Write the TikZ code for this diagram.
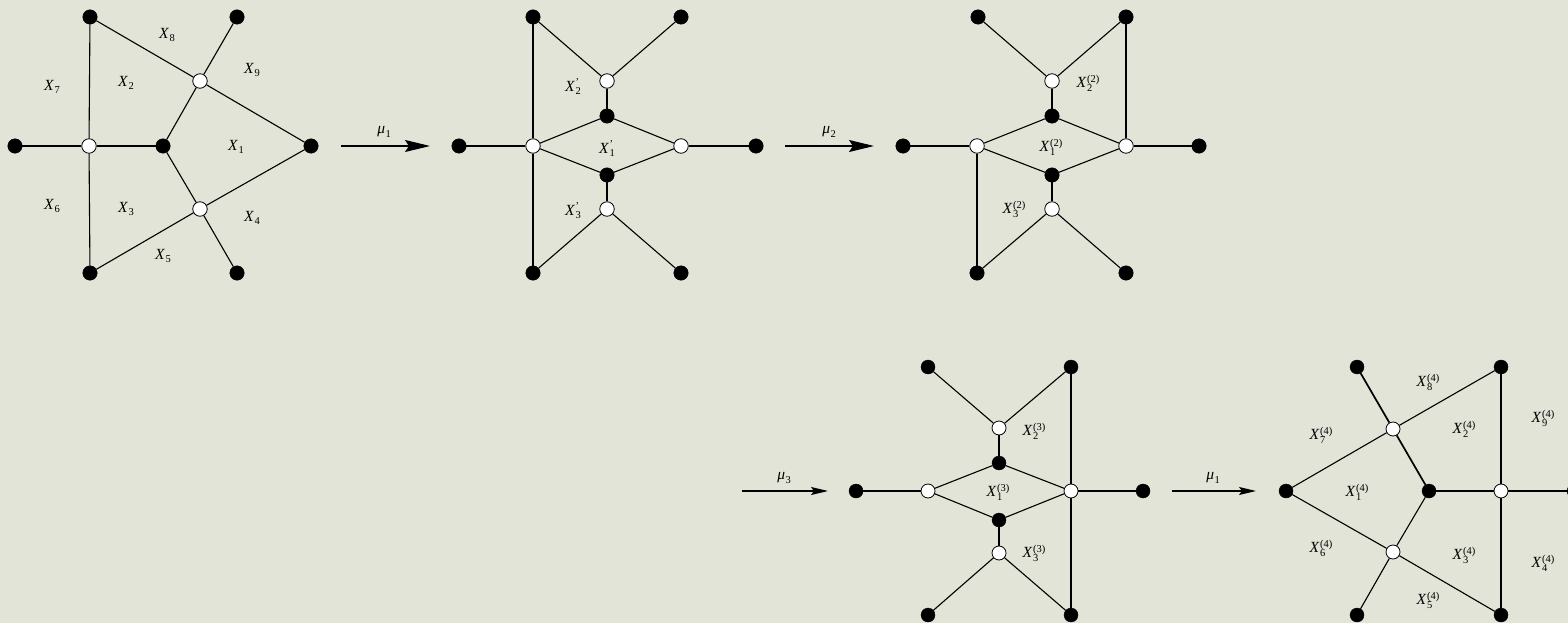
\documentclass[tikz,border=0pt]{standalone}
\usepackage{fontspec}
\setmainfont{Liberation Serif}
\usetikzlibrary{arrows.meta}
\newsavebox\Xsubbox
\newsavebox\Xsupbox
\newcommand\Xlab[3]{\mbox{\textit{#1}\kern0.03em\sbox\Xsubbox{\fontsize{10.5}{10.5}\selectfont #2}\sbox\Xsupbox{\fontsize{10.5}{10.5}\selectfont #3}\rlap{\raisebox{-3.2pt}{\usebox\Xsubbox}}\raisebox{5.8pt}{\usebox\Xsupbox}\ifdim\wd\Xsubbox>\wd\Xsupbox\kern\dimexpr\wd\Xsubbox-\wd\Xsupbox\relax\fi}}
\definecolor{bg}{RGB}{226,228,216}
\tikzset{
  bl/.style={circle,fill=black,draw=black,inner sep=0,minimum size=14.5},
  wh/.style={circle,fill=white,draw=black,line width=0.8,inner sep=0,minimum size=14.5},
  bls/.style={bl,minimum size=14},
  whs/.style={wh,minimum size=14},
  lbl/.style={font=\fontsize{15.5}{17}\selectfont,inner sep=0},
  edge/.style={line width=1.1,draw=black},
  thk/.style={line width=1.7,draw=black},
  arr/.style={line width=1.1,-{Stealth[length=25,width=12,inset=4]}},
  arrs/.style={line width=1.1,-{Stealth[length=17,width=8,inset=3]}},
}
\begin{document}
\begin{tikzpicture}[x=1pt,y=-1pt]
\fill[bg] (0,0) rectangle (1568,623);
\useasboundingbox (0,0) rectangle (1568,623);

% ---------- Graph 1 ----------
\node[bl] (a1) at (90,17) {};
\node[bl] (a2) at (237,17) {};
\node[wh] (a3) at (200,81) {};
\node[bl] (a4) at (15,146) {};
\node[wh] (a5) at (89,146) {};
\node[bl] (a6) at (163,146) {};
\node[bl] (a7) at (311,146) {};
\node[wh] (a8) at (200,209) {};
\node[bl] (a9) at (90,273) {};
\node[bl] (a10) at (237,273) {};
\draw[edge] (a1) -- (a5);
\draw[edge] (a5) -- (a9);
\draw[edge] (a4) -- (a5);
\draw[edge] (a5) -- (a6);
\draw[edge] (a6) -- (a3);
\draw[edge] (a6) -- (a8);
\draw[edge] (a3) -- (a1);
\draw[edge] (a3) -- (a2);
\draw[edge] (a3) -- (a7);
\draw[edge] (a8) -- (a7);
\draw[edge] (a8) -- (a9);
\draw[edge] (a8) -- (a10);
\node[lbl] (la8) at (167,35) {\Xlab{X}{8}{}};
\node[lbl] (la9) at (252,70) {\Xlab{X}{9}{}};
\node[lbl] (la7) at (52,87) {\Xlab{X}{7}{}};
\node[lbl] (la2) at (126,83) {\Xlab{X}{2}{}};
\node[lbl] (la1) at (236,147) {\Xlab{X}{1}{}};
\node[lbl] (la6) at (52,206) {\Xlab{X}{6}{}};
\node[lbl] (la3) at (126,209) {\Xlab{X}{3}{}};
\node[lbl] (la4) at (252,218) {\Xlab{X}{4}{}};
\node[lbl] (la5) at (163,256) {\Xlab{X}{5}{}};

% arrow mu1
\coordinate (m1s) at (341,146);
\coordinate (m1e) at (430,146);
\draw[arr] (m1s) -- (m1e);
\node[lbl] (m1l) at (384,132) {\Xlab{μ}{1}{}};

% ---------- Graph 2 ----------
\node[bl] (b1) at (533,17) {};
\node[bl] (b2) at (681,17) {};
\node[wh] (b3) at (607,81) {};
\node[bl] (b4) at (607,116) {};
\node[bl] (b5) at (459,146) {};
\node[wh] (b6) at (533,146) {};
\node[wh] (b7) at (681,146) {};
\node[bl] (b8) at (756,146) {};
\node[bl] (b9) at (607,175) {};
\node[wh] (b10) at (607,209) {};
\node[bl] (b11) at (533,273) {};
\node[bl] (b12) at (681,273) {};
\draw[edge] (b1) -- (b6);
\draw[edge] (b6) -- (b11);
\draw[edge] (b1) -- (b3);
\draw[edge] (b3) -- (b2);
\draw[edge] (b3) -- (b4);
\draw[edge] (b4) -- (b6);
\draw[edge] (b4) -- (b7);
\draw[edge] (b6) -- (b9);
\draw[edge] (b9) -- (b7);
\draw[edge] (b9) -- (b10);
\draw[edge] (b10) -- (b11);
\draw[edge] (b10) -- (b12);
\draw[edge] (b5) -- (b6);
\draw[edge] (b7) -- (b8);
\node[lbl] (lb2) at (573,87) {\Xlab{X}{2}{'}};
\node[lbl] (lb1) at (607,149) {\Xlab{X}{1}{'}};
\node[lbl] (lb3) at (573,211) {\Xlab{X}{3}{'}};

% arrow mu2
\coordinate (m2s) at (785,146);
\coordinate (m2e) at (874,146);
\draw[arr] (m2s) -- (m2e);
\node[lbl] (m2l) at (829,132) {\Xlab{μ}{2}{}};

% ---------- Graph 3 ----------
\node[bl] (c1) at (978,17) {};
\node[bl] (c2) at (1126,17) {};
\node[wh] (c3) at (1052,81) {};
\node[bl] (c4) at (1052,116) {};
\node[bl] (c5) at (903,146) {};
\node[wh] (c6) at (977,146) {};
\node[wh] (c7) at (1126,146) {};
\node[bl] (c8) at (1199,146) {};
\node[bl] (c9) at (1052,175) {};
\node[wh] (c10) at (1052,209) {};
\node[bl] (c11) at (977,273) {};
\node[bl] (c12) at (1126,273) {};
\draw[edge] (c1) -- (c3);
\draw[edge] (c3) -- (c2);
\draw[edge] (c2) -- (c7);
\draw[edge] (c3) -- (c4);
\draw[edge] (c4) -- (c6);
\draw[edge] (c4) -- (c7);
\draw[edge] (c6) -- (c9);
\draw[edge] (c9) -- (c7);
\draw[edge] (c9) -- (c10);
\draw[edge] (c10) -- (c11);
\draw[edge] (c10) -- (c12);
\draw[edge] (c6) -- (c11);
\draw[edge] (c5) -- (c6);
\draw[edge] (c7) -- (c8);
\node[lbl] (lc2) at (1088,83) {\Xlab{X}{2}{(2)}};
\node[lbl] (lc1) at (1051,147) {\Xlab{X}{1}{(2)}};
\node[lbl] (lc3) at (1014,209) {\Xlab{X}{3}{(2)}};

% arrow mu3
\coordinate (m3s) at (742,491);
\coordinate (m3e) at (828,491);
\draw[arrs] (m3s) -- (m3e);
\node[lbl] (m3l) at (784,478) {\Xlab{μ}{3}{}};

% ---------- Graph 4 ----------
\node[bls] (d1) at (928,367) {};
\node[bls] (d2) at (1071,367) {};
\node[whs] (d3) at (999,428) {};
\node[bls] (d4) at (999,463) {};
\node[bls] (d5) at (856,491) {};
\node[whs] (d6) at (928,491) {};
\node[whs] (d7) at (1071,491) {};
\node[bls] (d8) at (1143,491) {};
\node[bls] (d9) at (999,520) {};
\node[whs] (d10) at (999,553) {};
\node[bls] (d11) at (928,615) {};
\node[bls] (d12) at (1071,615) {};
\draw[edge] (d1) -- (d3);
\draw[edge] (d3) -- (d2);
\draw[edge] (d2) -- (d7);
\draw[edge] (d7) -- (d12);
\draw[thk] (d3) -- (d4);
\draw[edge] (d4) -- (d6);
\draw[edge] (d4) -- (d7);
\draw[edge] (d6) -- (d9);
\draw[edge] (d9) -- (d7);
\draw[thk] (d9) -- (d10);
\draw[edge] (d10) -- (d11);
\draw[edge] (d10) -- (d12);
\draw[edge] (d5) -- (d6);
\draw[thk] (d7) -- (d8);
\node[lbl] (ld2) at (1034,431) {\Xlab{X}{2}{(3)}};
\node[lbl] (ld1) at (998,492) {\Xlab{X}{1}{(3)}};
\node[lbl] (ld3) at (1034,553) {\Xlab{X}{3}{(3)}};

% arrow mu1 (second)
\coordinate (m4s) at (1172,491);
\coordinate (m4e) at (1256,491);
\draw[arrs] (m4s) -- (m4e);
\node[lbl] (m4l) at (1213,478) {\Xlab{μ}{1}{}};

% ---------- Graph 5 ----------
\node[bls] (e1) at (1286,491) {};
\node[whs] (e2) at (1393,429) {};
\node[bls] (e3) at (1357,367) {};
\node[bls] (e4) at (1501,367) {};
\node[bls] (e5) at (1429,491) {};
\node[whs] (e6) at (1501,491) {};
\node[bls] (e7) at (1574,491) {};
\node[whs] (e8) at (1393,552) {};
\node[bls] (e9) at (1357,615) {};
\node[bls] (e10) at (1501,615) {};
\draw[edge] (e1) -- (e2);
\draw[edge] (e1) -- (e8);
\draw[thk] (e2) -- (e3);
\draw[edge] (e2) -- (e4);
\draw[thk] (e2) -- (e5);
\draw[edge] (e5) -- (e8);
\draw[edge] (e8) -- (e9);
\draw[edge] (e8) -- (e10);
\draw[edge] (e5) -- (e6);
\draw[edge] (e6) -- (e4);
\draw[edge] (e6) -- (e10);
\draw[edge] (e6) -- (e7);
\node[lbl] (le8) at (1428,382) {\Xlab{X}{8}{(4)}};
\node[lbl] (le7) at (1321,435) {\Xlab{X}{7}{(4)}};
\node[lbl] (le2) at (1464,429) {\Xlab{X}{2}{(4)}};
\node[lbl] (le9) at (1543,418) {\Xlab{X}{9}{(4)}};
\node[lbl] (le1) at (1357,492) {\Xlab{X}{1}{(4)}};
\node[lbl] (le6) at (1321,548) {\Xlab{X}{6}{(4)}};
\node[lbl] (le3) at (1464,555) {\Xlab{X}{3}{(4)}};
\node[lbl] (le4) at (1543,563) {\Xlab{X}{4}{(4)}};
\node[lbl] (le5) at (1428,600) {\Xlab{X}{5}{(4)}};
\end{tikzpicture}
\end{document}
